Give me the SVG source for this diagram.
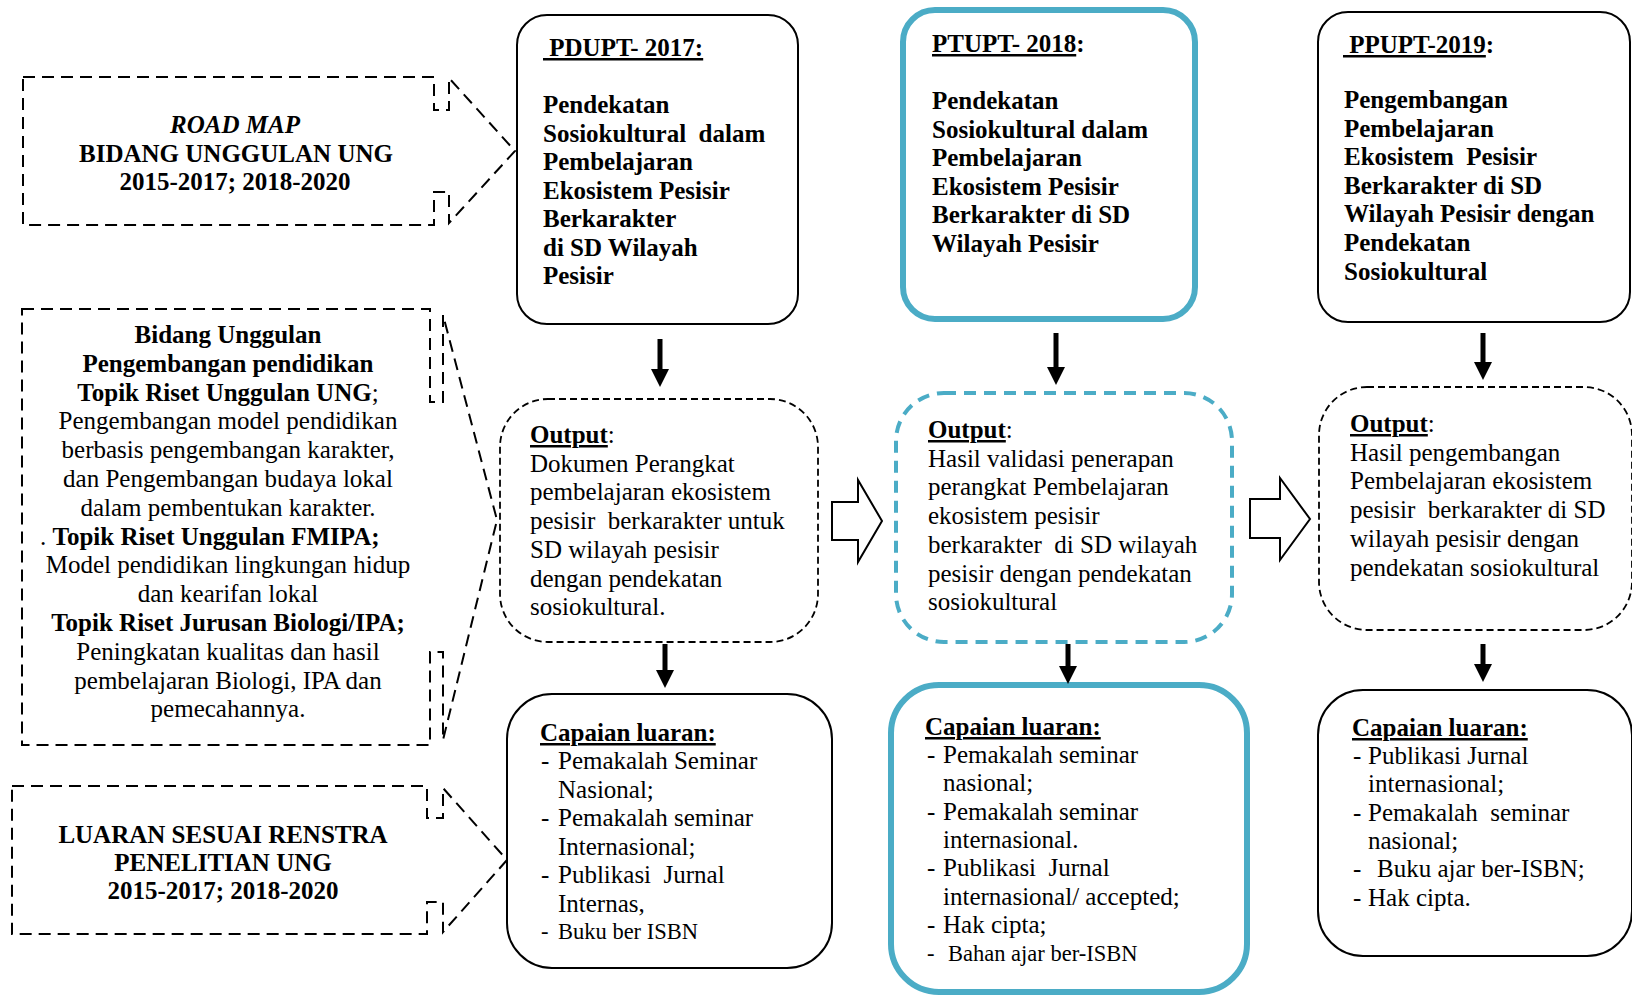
<svg xmlns="http://www.w3.org/2000/svg" width="1632" height="995" viewBox="0 0 1632 995">
<style>
text{font-family:"Liberation Serif","Times New Roman",serif;font-size:25px;fill:#000}
.b{font-weight:bold}
.i{font-style:italic}
.u{text-decoration:underline}
.sm{font-size:22.5px}
.mid{text-anchor:middle}
.callout{fill:#fff;stroke:#000;stroke-width:2;stroke-dasharray:12 7}
.box{fill:#fff;stroke:#000;stroke-width:2}
.tbox{fill:#fff;stroke:#4BACC6;stroke-width:5.5}
.dbox{fill:#fff;stroke:#000;stroke-width:1.8;stroke-dasharray:7 4}
.tdbox{fill:#fff;stroke:#4BACC6;stroke-width:4;stroke-dasharray:12 8}
.down{stroke:#000;stroke-width:5;fill:none;marker-end:url(#ah)}
.block{fill:#fff;stroke:#000;stroke-width:2;stroke-linejoin:miter}
</style>
<defs>
<marker id="ah" markerUnits="userSpaceOnUse" markerWidth="18" markerHeight="18" refX="10" refY="9" orient="auto">
<path d="M0,0 L18,9 L0,18 Z" fill="#000"/>
</marker>
</defs>
<rect width="1632" height="995" fill="#fff"/>

<g id="roadmap">
<path class="callout" d="M23,77 H434 V110 H449 V78 L515,151 L449,223 V192 H434 V225 H23 Z"/>
<text class="b i mid" x="235" y="133">ROAD MAP</text>
<text class="b mid" x="236" y="162">BIDANG UNGGULAN UNG</text>
<text class="b mid" x="235" y="190">2015-2017; 2018-2020</text>
</g>

<g id="bidang">
<path class="callout" d="M22,309 H430 V402 H443 V315 L497,520 L443,740 V652 H430 V745 H22 Z"/>
<text class="b mid" x="228" y="343">Bidang Unggulan</text>
<text class="b mid" x="228" y="371.8">Pengembangan pendidikan</text>
<text class="mid" x="228" y="400.6"><tspan class="b">Topik Riset Unggulan UNG</tspan>;</text>
<text class="mid" x="228" y="429.4">Pengembangan model pendidikan</text>
<text class="mid" x="228" y="458.2">berbasis pengembangan karakter,</text>
<text class="mid" x="228" y="487">dan Pengembangan budaya lokal</text>
<text class="mid" x="228" y="515.8">dalam pembentukan karakter.</text>
<text x="40" y="544.6">. <tspan class="b">Topik Riset Unggulan FMIPA;</tspan></text>
<text class="mid" x="228" y="573.4">Model pendidikan lingkungan hidup</text>
<text class="mid" x="228" y="602.2">dan kearifan lokal</text>
<text class="b mid" x="228" y="631">Topik Riset Jurusan Biologi/IPA;</text>
<text class="mid" x="228" y="659.8">Peningkatan kualitas dan hasil</text>
<text class="mid" x="228" y="688.6">pembelajaran Biologi, IPA dan</text>
<text class="mid" x="228" y="717.4">pemecahannya.</text>
</g>

<g id="luaran">
<path class="callout" d="M12,786 H427 V818 H443 V788 L507,860 L443,932 V902 H427 V934 H12 Z"/>
<text class="b mid" x="223" y="843">LUARAN SESUAI RENSTRA</text>
<text class="b mid" x="223" y="871">PENELITIAN UNG</text>
<text class="b mid" x="223" y="899">2015-2017; 2018-2020</text>
</g>

<g id="pdupt2017">
<rect class="box" x="517" y="15" width="281" height="309" rx="30"/>
<text class="b u" x="543" y="56">&#160;PDUPT- 2017:</text>
<text class="b" x="543" y="113">Pendekatan</text>
<text class="b" x="543" y="141.5">Sosiokultural&#160; dalam</text>
<text class="b" x="543" y="170">Pembelajaran</text>
<text class="b" x="543" y="198.5">Ekosistem Pesisir</text>
<text class="b" x="543" y="227">Berkarakter</text>
<text class="b" x="543" y="255.5">di SD Wilayah</text>
<text class="b" x="543" y="284">Pesisir</text>
</g>

<g id="ptupt2018">
<rect class="tbox" x="903" y="10" width="292" height="309" rx="32" style="stroke-width:6"/>
<text class="b" x="932" y="52"><tspan class="u">PTUPT- 2018</tspan>:</text>
<text class="b" x="932" y="109">Pendekatan</text>
<text class="b" x="932" y="137.5">Sosiokultural dalam</text>
<text class="b" x="932" y="166">Pembelajaran</text>
<text class="b" x="932" y="194.5">Ekosistem Pesisir</text>
<text class="b" x="932" y="223">Berkarakter di SD</text>
<text class="b" x="932" y="251.5">Wilayah Pesisir</text>
</g>

<g id="ppupt2019">
<rect class="box" x="1318" y="12" width="312" height="310" rx="30"/>
<text class="b" x="1343" y="53"><tspan class="u">&#160;PPUPT-2019</tspan>:</text>
<text class="b" x="1344" y="108">Pengembangan</text>
<text class="b" x="1344" y="136.6">Pembelajaran</text>
<text class="b" x="1344" y="165.2">Ekosistem&#160; Pesisir</text>
<text class="b" x="1344" y="193.8">Berkarakter di SD</text>
<text class="b" x="1344" y="222.4">Wilayah Pesisir dengan</text>
<text class="b" x="1344" y="251">Pendekatan</text>
<text class="b" x="1344" y="279.6">Sosiokultural</text>
</g>

<g id="output2017">
<rect class="dbox" x="500" y="399" width="318" height="243" rx="48"/>
<text x="530" y="443"><tspan class="b u">Output</tspan>:</text>
<text x="530" y="471.7">Dokumen Perangkat</text>
<text x="530" y="500.4">pembelajaran ekosistem</text>
<text x="530" y="529.1">pesisir&#160; berkarakter untuk</text>
<text x="530" y="557.8">SD wilayah pesisir</text>
<text x="530" y="586.5">dengan pendekatan</text>
<text x="530" y="615.2">sosiokultural.</text>
</g>

<g id="output2018">
<rect class="tdbox" x="896" y="393" width="336" height="249" rx="48"/>
<text x="928" y="438"><tspan class="b u">Output</tspan>:</text>
<text x="928" y="466.7">Hasil validasi penerapan</text>
<text x="928" y="495.4">perangkat Pembelajaran</text>
<text x="928" y="524.1">ekosistem pesisir</text>
<text x="928" y="552.8">berkarakter&#160; di SD wilayah</text>
<text x="928" y="581.5">pesisir dengan pendekatan</text>
<text x="928" y="610.2">sosiokultural</text>
</g>

<g id="output2019">
<rect class="dbox" x="1319" y="387" width="313" height="243" rx="48"/>
<text x="1350" y="432"><tspan class="b u">Output</tspan>:</text>
<text x="1350" y="460.7">Hasil pengembangan</text>
<text x="1350" y="489.4">Pembelajaran ekosistem</text>
<text x="1350" y="518.1">pesisir&#160; berkarakter di SD</text>
<text x="1350" y="546.8">wilayah pesisir dengan</text>
<text x="1350" y="575.5">pendekatan sosiokultural</text>
</g>

<g id="capaian2017">
<rect class="box" x="507" y="694" width="325" height="274" rx="45"/>
<text class="b u" x="540" y="741">Capaian luaran:</text>
<text x="541" y="769">-</text><text x="558" y="769">Pemakalah Seminar</text>
<text x="558" y="797.5">Nasional;</text>
<text x="541" y="826">-</text><text x="558" y="826">Pemakalah seminar</text>
<text x="558" y="854.5">Internasional;</text>
<text x="541" y="883">-</text><text x="558" y="883">Publikasi&#160; Jurnal</text>
<text x="558" y="911.5">Internas,</text>
<text class="sm" x="541" y="939">-</text><text class="sm" x="558" y="939">Buku ber ISBN</text>
</g>

<g id="capaian2018">
<rect class="tbox" x="891" y="685" width="356" height="307" rx="48" style="stroke-width:6"/>
<text class="b u" x="925" y="735">Capaian luaran:</text>
<text x="927" y="763">-</text><text x="943" y="763">Pemakalah seminar</text>
<text x="943" y="791">nasional;</text>
<text x="927" y="820">-</text><text x="943" y="820">Pemakalah seminar</text>
<text x="943" y="848">internasional.</text>
<text x="927" y="876">-</text><text x="943" y="876">Publikasi&#160; Jurnal</text>
<text x="943" y="905">internasional/ accepted;</text>
<text x="927" y="933">-</text><text x="943" y="933">Hak cipta;</text>
<text class="sm" x="927" y="961">-</text><text class="sm" x="948" y="961">Bahan ajar ber-ISBN</text>
</g>

<g id="capaian2019">
<rect class="box" x="1318" y="690" width="314" height="266" rx="45"/>
<text class="b u" x="1352" y="736">Capaian luaran:</text>
<text x="1353" y="764">-</text><text x="1368" y="764">Publikasi Jurnal</text>
<text x="1368" y="792">internasional;</text>
<text x="1353" y="821">-</text><text x="1368" y="821">Pemakalah&#160; seminar</text>
<text x="1368" y="849">nasional;</text>
<text x="1353" y="877">-</text><text x="1377" y="877">Buku ajar ber-ISBN;</text>
<text x="1353" y="906">-</text><text x="1368" y="906">Hak cipta.</text>
</g>

<g id="connectors">
<line class="down" x1="660" y1="339" x2="660" y2="379"/>
<line class="down" x1="1056" y1="333" x2="1056" y2="377"/>
<line class="down" x1="1483" y1="333" x2="1483" y2="372"/>
<line class="down" x1="665" y1="644" x2="665" y2="680"/>
<line class="down" x1="1068" y1="644" x2="1068" y2="676"/>
<line class="down" x1="1483" y1="644" x2="1483" y2="674"/>
<path class="block" d="M832,502 H858 V480 L882,521 L858,562 V540 H832 Z"/>
<path class="block" d="M1250,499 H1280 V478 L1310,519 L1280,560 V538 H1250 Z"/>
</g>
</svg>
